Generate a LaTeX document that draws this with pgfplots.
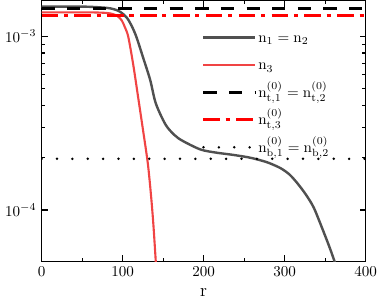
\documentclass[border=0pt]{standalone}
\usepackage{pgfplots}
\pgfplotsset{compat=1.18}
\definecolor{dgray}{HTML}{505050}
\definecolor{lred}{HTML}{F04444}
\begin{document}
\begin{tikzpicture}
\begin{axis}[
  scale only axis,
  width=215pt, height=173pt,
  xmin=0, xmax=400,
  ymode=log, ymin=5.06e-5, ymax=1.6e-3,
  xtick={0,100,200,300,400},
  minor x tick num=1,
  ytick={1e-4,1e-3},
  tick align=inside,
  tick pos=both,
  axis line style={line width=0.9pt},
  major tick length=4pt, minor tick length=2.5pt,
  every tick/.style={black, line width=0.7pt},
  xlabel={$\mathrm{r}$},
  xlabel style={font=\large, yshift=-1pt},
  legend cell align=left,
  legend style={at={(rel axis cs:0.48,0.92)}, anchor=north west, draw=none, fill=none,
    row sep=1.3pt, nodes={inner sep=1.2pt, text height=1.05em, text depth=0.4em}},
  legend image code/.code={\draw[#1] (0cm,0cm) -- (1.2cm,0cm);},
]
\addplot[dgray, line width=1.6pt, smooth] coordinates {
(0,1.48e-3) (40,1.48e-3) (60,1.475e-3) (80,1.455e-3) (89,1.43e-3) (97,1.38e-3)
(105,1.28e-3) (111,1.15e-3) (117,9.9e-4) (125,7.6e-4) (134,5.6e-4) (141,4.1e-4)
(153,3.1e-4) (164,2.7e-4) (174,2.5e-4) (196,2.23e-4) (215,2.14e-4) (235,2.08e-4)
(255,2.01e-4) (267,1.95e-4) (280,1.87e-4) (295,1.74e-4) (306,1.6e-4) (316,1.42e-4)
(326,1.23e-4) (336,1.03e-4) (348,7.5e-5) (356,6.0e-5) (362,5.0e-5) (365,4.6e-5)};
\addlegendentry{$\mathrm{n}_1=\mathrm{n}_2$}
\addplot[lred, line width=1.4pt, smooth] coordinates {
(0,1.37e-3) (60,1.37e-3) (80,1.36e-3) (88,1.34e-3) (94,1.3e-3) (99,1.23e-3)
(103,1.12e-3) (107,9.9e-4) (113,6.9e-4) (119,4.5e-4) (125,2.92e-4) (131,1.87e-4)
(135,1.22e-4) (138,8.2e-5) (141,5.0e-5) (142,4.4e-5)};
\addlegendentry{$\mathrm{n}_3$}
\addplot[black, line width=2pt, dash pattern=on 8.8pt off 8.2pt] coordinates {(0,1.45e-3) (400,1.45e-3)};
\addlegendentry{$\mathrm{n}_{\mathrm{t},1}^{(0)}=\mathrm{n}_{\mathrm{t},2}^{(0)}$}
\addplot[red, line width=2pt, dash pattern=on 11pt off 3.7pt on 2.7pt off 4.4pt] coordinates {(0,1.32e-3) (400,1.32e-3)};
\addlegendentry{$\mathrm{n}_{\mathrm{t},3}^{(0)}$}
\addplot[black, line width=1.8pt, line cap=round, dash pattern=on 0pt off 10.2pt] coordinates {(0,1.97e-4) (400,1.97e-4)};
\addlegendentry{$\mathrm{n}_{\mathrm{b},1}^{(0)}=\mathrm{n}_{\mathrm{b},2}^{(0)}$}
\end{axis}
\end{tikzpicture}
\end{document}
